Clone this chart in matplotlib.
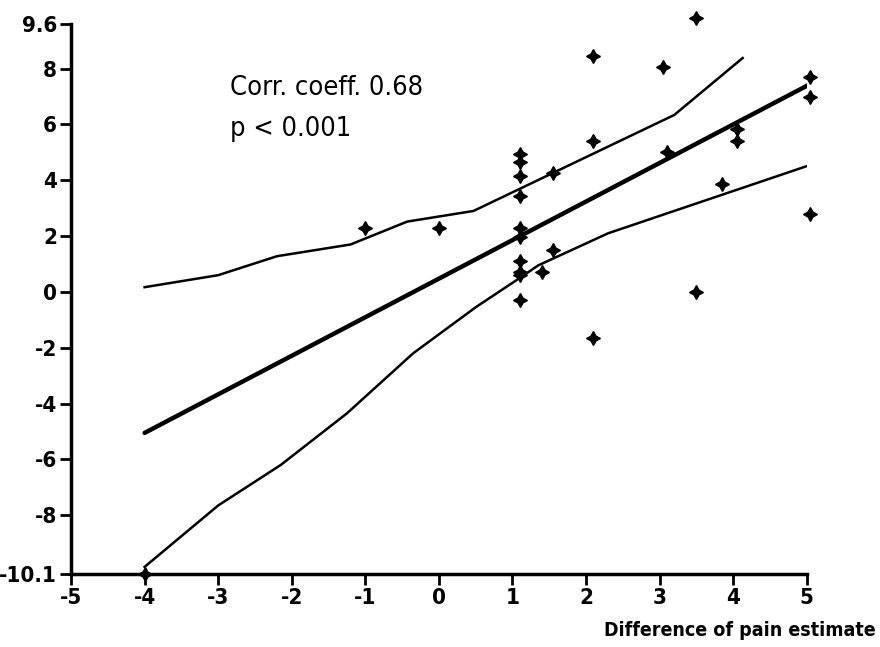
import numpy as np
import matplotlib
matplotlib.use("Agg")
import matplotlib.pyplot as plt

plt.rcParams['font.family'] = ['DejaVu Sans']
plt.rcParams['font.stretch'] = 'condensed'
plt.rcParams['axes.unicode_minus'] = False

# scatter points (difference of pain estimate vs. y)
pts_x = [-4.0, -1.0, 0.0,
         1.1, 1.1, 1.1, 1.1, 1.1, 1.1, 1.1, 1.1, 1.1, 1.1,
         1.4, 1.55, 1.55, 2.1, 2.1, 2.1,
         3.05, 3.1, 3.5, 3.5, 3.85, 4.05, 4.05, 5.05, 5.05, 5.05]
pts_y = [-10.1, 2.3, 2.3,
         4.95, 4.65, 4.15, 3.45, 2.3, 1.95, 1.1, 0.7, 0.6, -0.3,
         0.7, 1.5, 4.25, 8.45, 5.4, -1.65,
         8.05, 5.0, 9.8, 0.0, 3.85, 5.85, 5.4, 7.7, 7.0, 2.8]

# regression line
reg_x = [-4.0, 5.05]
reg_y = [-5.05, 7.45]

# upper confidence curve
up_x = [-4.0, -3.0, -2.2, -1.2, -0.43, 0.47, 3.2, 4.13]
up_y = [0.17, 0.6, 1.28, 1.7, 2.52, 2.9, 6.34, 8.38]

# lower confidence curve
lo_x = [-4.0, -3.0, -2.15, -1.25, -0.35, 0.5, 1.1, 1.35, 2.3, 5.05]
lo_y = [-9.85, -7.65, -6.2, -4.35, -2.2, -0.55, 0.5, 0.95, 2.1, 4.55]

xticks = [-5, -4, -3, -2, -1, 0, 1, 2, 3, 4, 5]
yticks = [-10.1, -8, -6, -4, -2, 0, 2, 4, 6, 8, 9.6]
ytick_labels = ['-10.1', '-8', '-6', '-4', '-2', '0', '2', '4', '6', '8', '9.6']

fig = plt.figure(figsize=(8.8, 6.47), dpi=100)
ax = fig.add_axes([0.0807, 0.113, 0.836, 0.850])

ax.plot(reg_x, reg_y, color='black', lw=3.2, solid_capstyle='round')
ax.plot(up_x, up_y, color='black', lw=1.8)
ax.plot(lo_x, lo_y, color='black', lw=1.8)
ax.plot(pts_x, pts_y, linestyle='none', marker=(4, 1, 0), markersize=10,
        color='black', clip_on=False, zorder=5)

ax.set_xlim(-5, 5)
ax.set_ylim(-10.1, 9.6)
ax.set_xticks(xticks)
ax.set_yticks(yticks)
ax.set_yticklabels(ytick_labels)

for s in ['top', 'right']:
    ax.spines[s].set_visible(False)
for s in ['left', 'bottom']:
    ax.spines[s].set_linewidth(2.5)
ax.tick_params(width=2, length=8, labelsize=16, pad=2)
for lbl in ax.get_xticklabels() + ax.get_yticklabels():
    lbl.set_fontweight('bold')

ax.text(-2.84, 7.3, 'Corr. coeff. 0.68', fontsize=19.5, va='center', ha='left')
ax.text(-2.84, 5.85, 'p < 0.001', fontsize=19.5, va='center', ha='left')

fig.text(0.995, 0.026, 'Difference of pain estimate', fontsize=14,
         fontweight='bold', ha='right', va='center')

fig.savefig('out.png', dpi=100)
